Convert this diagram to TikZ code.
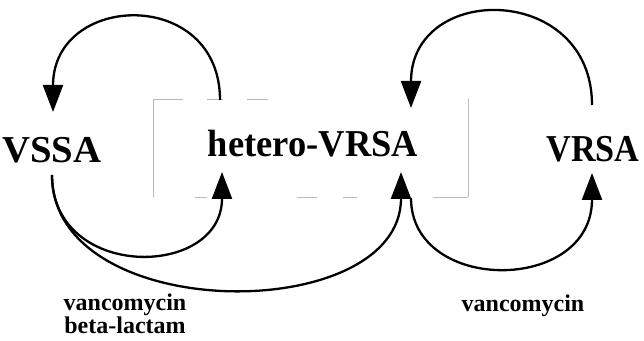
\documentclass[tikz,border=0pt]{standalone}
\usepackage{fontspec}
\setmainfont{Liberation Serif}
\usetikzlibrary{arrows.meta}

\tikzset{
  strain/.style={font=\fontsize{38}{40}\selectfont\bfseries, inner sep=0pt, anchor=base},
  drug/.style={font=\fontsize{24}{21}\selectfont\bfseries, align=center, inner sep=0pt},
  cycle/.style={line width=2.3pt, -{Triangle[length=27pt,width=20pt]}},
  frame/.style={gray!55, line width=0.8pt}
}

\begin{document}
\begin{tikzpicture}[x=1pt,y=1pt]
  \useasboundingbox (0,0) rectangle (644,340);

  % strains
  \node[strain] (vssa)   at (52,177)  {\scalebox{1.02}[1]{VSSA}};
  \node[strain] (hetero) at (313,183) {\scalebox{0.96}[1]{hetero-VRSA}};
  \node[strain] (vrsa)   at (593,178) {\scalebox{0.9}[1]{VRSA}};

  % broken frame round hetero-VRSA
  \draw[frame] (153,143) -- (153,241);
  \draw[frame] (468,143) -- (468,241);
  \foreach \a/\b in {153/183, 207/223, 247/268}
    \draw[frame] (\a,241) -- (\b,241);
  \foreach \a/\b in {195/207, 297/317, 343/357, 433/468}
    \draw[frame] (\a,143) -- (\b,143);

  % arrows
  \draw[cycle] ([shift={(-93,57)}]hetero.base) .. controls +(0,113) and +(0,120) .. ([shift={(1,51)}]vssa.base);
  \draw[cycle] ([shift={(-1,57)}]vrsa.base) .. controls +(0,122) and +(0,126) .. ([shift={(98,49)}]hetero.base);
  \draw[cycle] ([shift={(0,-12)}]vssa.base) .. controls +(0,-106) and +(0,-107) .. ([shift={(-91,-15)}]hetero.base);
  \draw[cycle] ([shift={(0,-12)}]vssa.base) .. controls +(0,-151) and +(0,-154) .. ([shift={(88,-15)}]hetero.base);
  \draw[cycle] ([shift={(98,-41)}]hetero.base) .. controls +(0,-96) and +(0,-121) .. ([shift={(-1,-11)}]vrsa.base);

  % drugs
  \node[drug] (leftdrug)  at (125,26) {vancomycin\\beta-lactam};
  \node[drug] (rightdrug) at (523,34) {vancomycin};
\end{tikzpicture}
\end{document}
